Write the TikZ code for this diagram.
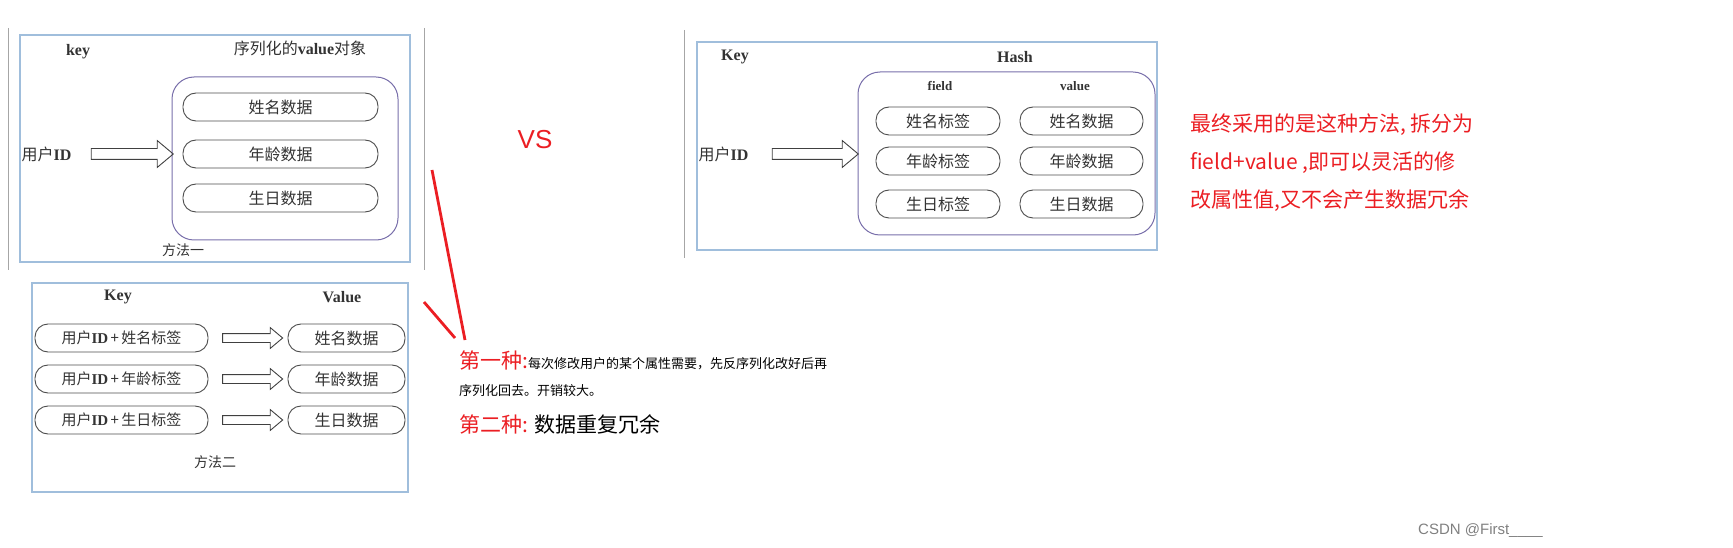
\documentclass[tikz,border=0pt]{standalone}
\usepackage{fontspec}
\setmainfont{Liberation Serif}
\newfontfamily\cjk{Noto Sans CJK SC}
\newfontfamily\sans{Liberation Sans}
\usetikzlibrary{shapes.arrows}
\definecolor{panelblue}{RGB}{160,190,220}
\definecolor{purp}{RGB}{120,110,170}
\definecolor{myred}{RGB}{235,30,35}
\tikzset{
 panel/.style={draw=panelblue,line width=1.2pt},
 sep/.style={draw=gray!70,line width=0.8pt},
 group/.style={draw=purp,line width=1pt,rounded corners=22pt},
 pill/.style={draw=black!70,line width=0.9pt,rounded corners=13pt,minimum height=28pt,font=\cjk\fontsize{16}{18}\selectfont,text=black!80},
 harrow/.style={single arrow,draw=black!75,line width=0.9pt,inner sep=5pt,single arrow head extend=8pt,single arrow tip angle=80},
 lbl/.style={font=\fontsize{16}{18}\selectfont\bfseries,text=black!80},
 clbl/.style={font=\cjk\fontsize{16}{18}\selectfont,text=black!80},
 redline/.style={draw=myred,line width=2.8pt},
}
\begin{document}
\begin{tikzpicture}[x=1pt,y=-1pt]
\useasboundingbox (0,0) rectangle (1733,548);
% panel 1
\draw[sep] (8,28) -- (8,270);
\draw[sep] (424,28) -- (424,270);
\draw[panel] (20,35) rectangle (410,262);
\node[lbl] (k1) at (78,52) {key};
\node[clbl] (h1) at (300,48) {序列化的{\fontspec{Liberation Serif}\bfseries value}对象};
\draw[group] (172,77) rectangle (398,240);
\node[pill,minimum width=195pt] (a1) at (280.5,107) {姓名数据};
\node[pill,minimum width=195pt] (a2) at (280.5,154) {年龄数据};
\node[pill,minimum width=195pt] (a3) at (280.5,198) {生日数据};
\node[clbl,anchor=west] (u1) at (18,154) {用户{\fontspec{Liberation Serif}\bfseries ID}};
\node[harrow,minimum height=82pt] (ar1) at (129,154) {};
\node[clbl,font=\cjk\fontsize{14}{16}\selectfont] (m1) at (183,250) {方法一};
% panel 2
\draw[panel] (32,283) rectangle (408,492);
\node[lbl] (k2) at (118,297) {Key};
\node[lbl] (v2) at (342,297) {Value};
\foreach \y/\a/\b [count=\i] in {338/姓名标签/姓名数据,379/年龄标签/年龄数据,420/生日标签/生日数据}{
 \node[pill,minimum width=173pt,font=\cjk\fontsize{15}{17}\selectfont] (l\i) at (121.5,\y) {用户{\fontspec{Liberation Serif}\bfseries ID}\,+\,\a};
 \node[pill,minimum width=117pt] (r\i) at (346.5,\y) {\b};
 \node[harrow,minimum height=60pt,inner sep=4pt,single arrow head extend=6pt] (b\i) at (250,\y) {};
}
\node[clbl,font=\cjk\fontsize{14}{16}\selectfont] (m2) at (215,462) {方法二};
% vs
\node[text=myred,font=\sans\fontsize{26}{28}\selectfont] (vs) at (535,140) {VS};
% red strokes
\coordinate (p1) at (432,170); \coordinate (p2) at (465,340);
\coordinate (p3) at (424,302); \coordinate (p4) at (455,338);
\draw[redline] (p1) -- (p2);
\draw[redline] (p3) -- (p4);
% notes
\node[anchor=west,inner sep=0] (t1) at (459,360) {\cjk{\color{myred}\fontsize{21}{23}\selectfont 第一种:}{\fontsize{13}{15}\selectfont 每次修改用户的某个属性需要，先反序列化改好后再}};
\node[anchor=west,inner sep=0] (t2) at (459,391) {\cjk\fontsize{13}{15}\selectfont 序列化回去。开销较大。};
\node[anchor=west,inner sep=0] (t3) at (459,424) {\cjk\fontsize{21}{23}\selectfont{\color{myred}第二种:} 数据重复冗余};
% panel 3
\draw[sep] (684,30) -- (684,258);
\draw[panel] (697,42) rectangle (1157,250);
\node[lbl] (k3) at (735,57) {Key};
\node[lbl] (h3) at (1015,57) {Hash};
\draw[group] (858,72) rectangle (1155,235);
\node[font=\fontsize{13}{15}\selectfont\bfseries,text=black!80] (f3) at (940,86) {field};
\node[font=\fontsize{13}{15}\selectfont\bfseries,text=black!80] (v3) at (1075,86) {value};
\foreach \y/\a/\b [count=\i] in {121/姓名标签/姓名数据,161/年龄标签/年龄数据,204/生日标签/生日数据}{
 \node[pill,minimum width=124pt] (hl\i) at (938,\y) {\a};
 \node[pill,minimum width=123pt] (hr\i) at (1081.5,\y) {\b};
}
\node[clbl,anchor=west] (u3) at (695,154) {用户{\fontspec{Liberation Serif}\bfseries ID}};
\node[harrow,minimum height=86pt] (ar3) at (812,154) {};
% right note
\node[anchor=west,inner sep=0,text=myred,font=\cjk\fontsize{21}{23}\selectfont] (n1) at (1190,125) {最终采用的是这种方法, 拆分为};
\node[anchor=west,inner sep=0,text=myred,font=\cjk\fontsize{21}{23}\selectfont] (n2) at (1190,163) {field+value ,即可以灵活的修};
\node[anchor=west,inner sep=0,text=myred,font=\cjk\fontsize{21}{23}\selectfont] (n3) at (1190,201) {改属性值,又不会产生数据冗余};
\node[anchor=west,inner sep=0,text=gray,font=\sans\fontsize{15}{17}\selectfont] (wm) at (1418,531) {CSDN @First\_\_\_\_};
\end{tikzpicture}
\end{document}
